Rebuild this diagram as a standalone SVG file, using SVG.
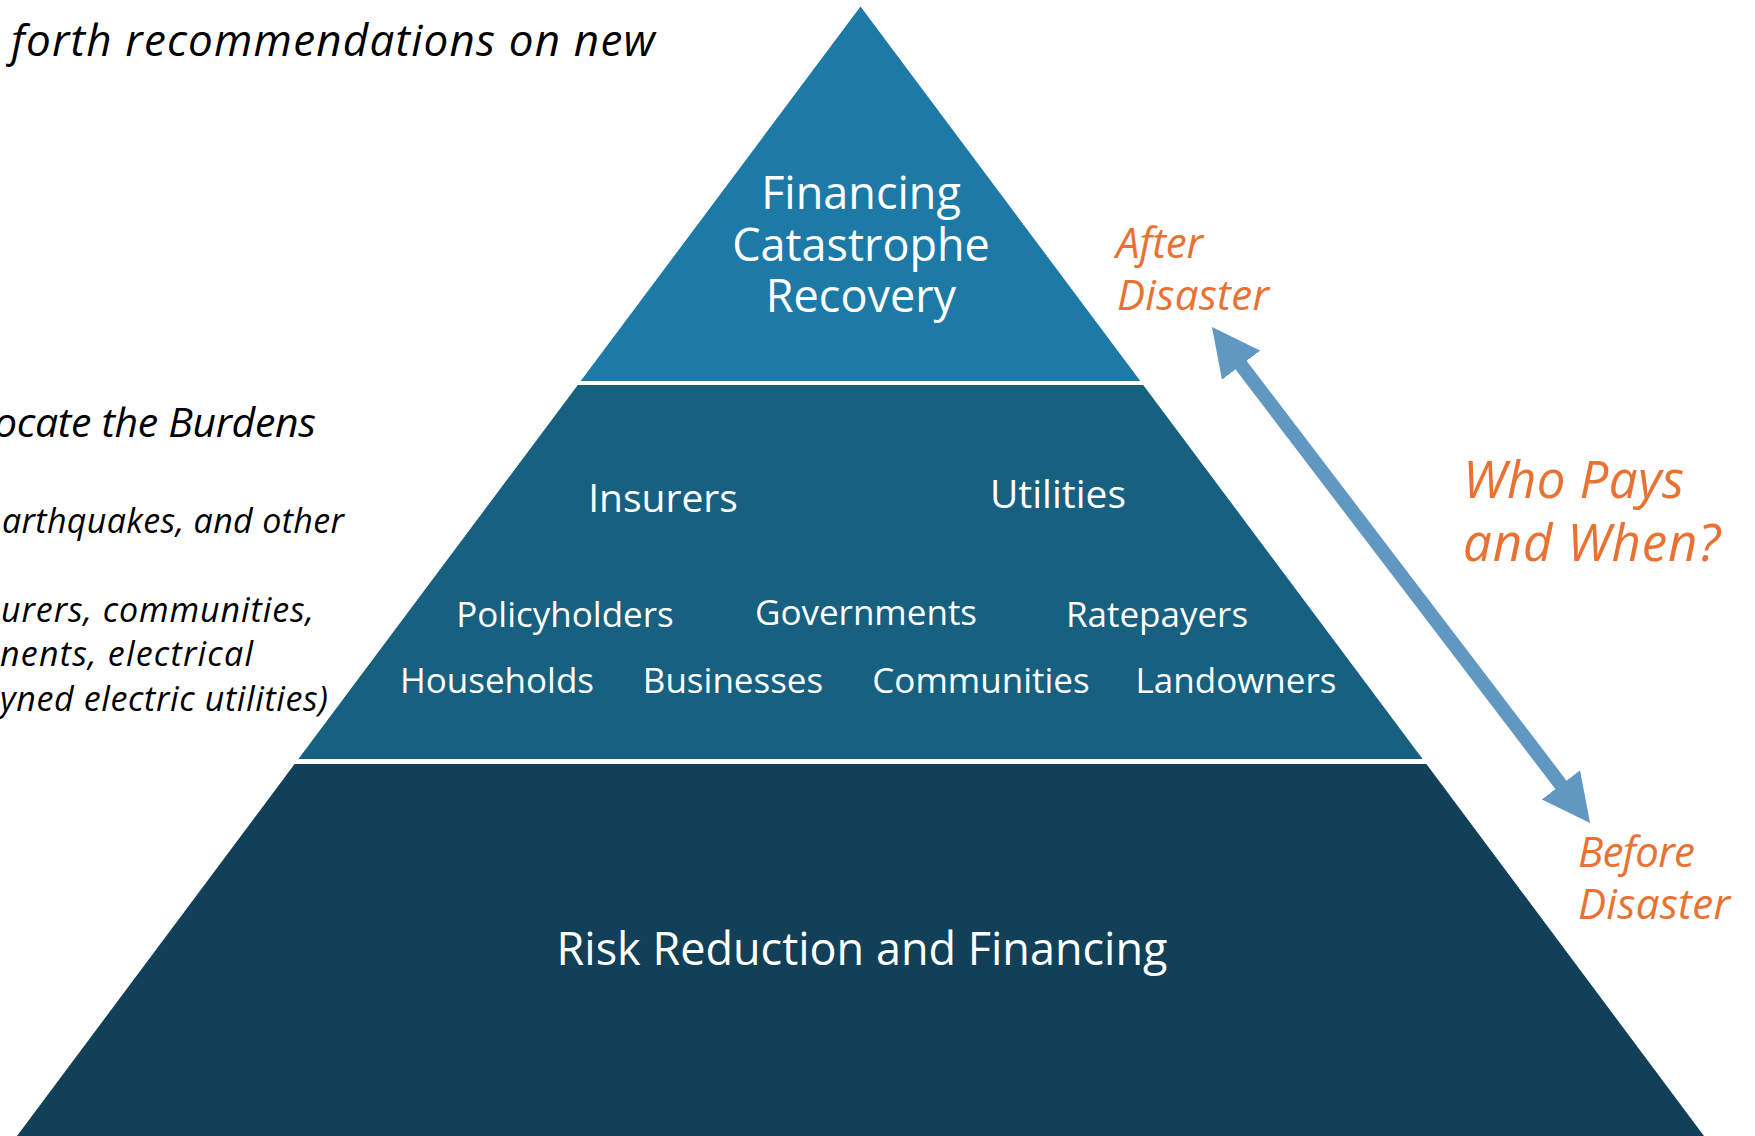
<svg xmlns="http://www.w3.org/2000/svg" width="1755" height="1136" viewBox="0 0 1755 1136">
<style>
.tier-label{font-family:"Open Sans","Liberation Sans",sans-serif;fill:#ffffff;text-anchor:middle}
.big{font-size:45px}
.mid{font-size:39px}
.small{font-size:35px}
.orange{font-family:"Open Sans","Liberation Sans",sans-serif;font-style:italic;fill:#E97132}
.side{font-family:"Open Sans","Liberation Sans",sans-serif;font-style:italic;fill:#000000}
</style>
<defs>
<marker id="head" markerUnits="userSpaceOnUse" markerWidth="48" markerHeight="48" viewBox="0 0 48 48" refX="8" refY="24" orient="auto-start-reverse">
<path d="M0,0 L48,24 L0,48 z" fill="#6098C2"/>
</marker>
</defs>
<rect width="1755" height="1136" fill="#ffffff"/>
<g id="side-text">
<text class="side" x="11" y="56" font-size="44" textLength="644" lengthAdjust="spacing">forth recommendations on new</text>
<text class="side" x="-6" y="437" font-size="41" textLength="322" lengthAdjust="spacing">ocate the Burdens</text>
<text class="side" x="2" y="533" font-size="34" textLength="342" lengthAdjust="spacing">arthquakes, and other</text>
<text class="side" x="1" y="622" font-size="34" textLength="313" lengthAdjust="spacing">urers, communities,</text>
<text class="side" x="0" y="666" font-size="34" textLength="253" lengthAdjust="spacing">nents, electrical</text>
<text class="side" x="0" y="711" font-size="34" textLength="328" lengthAdjust="spacing">yned electric utilities)</text>
</g>
<g id="tier-top">
<polygon points="860.5,6.5 1140.3,381 580.7,381" fill="#1D7AA6"/>
<text class="tier-label big" x="861" y="209">Financing</text>
<text class="tier-label big" x="861" y="261">Catastrophe</text>
<text class="tier-label big" x="861" y="312">Recovery</text>
</g>
<g id="tier-middle">
<polygon points="577.8,385 1143.2,385 1422.6,759 298.4,759" fill="#17607F"/>
<text class="tier-label mid" x="663" y="512">Insurers</text>
<text class="tier-label mid" x="1058" y="508">Utilities</text>
<text class="tier-label small" x="565" y="627">Policyholders</text>
<text class="tier-label small" x="866" y="625">Governments</text>
<text class="tier-label small" x="1157" y="627">Ratepayers</text>
<text class="tier-label small" x="497" y="693">Households</text>
<text class="tier-label small" x="733" y="693">Businesses</text>
<text class="tier-label small" x="981" y="693">Communities</text>
<text class="tier-label small" x="1236" y="693">Landowners</text>
</g>
<g id="tier-bottom">
<polygon points="294.6,764 1426.4,764 1707,1140 14,1140" fill="#114058"/>
<text class="tier-label big" x="862" y="965">Risk Reduction and Financing</text>
</g>
<g id="label-after">
<text class="orange" x="1116" y="258" font-size="42" textLength="87" lengthAdjust="spacing">After</text>
<text class="orange" x="1117" y="310" font-size="42" textLength="152" lengthAdjust="spacing">Disaster</text>
</g>
<g id="label-question">
<text class="orange" x="1463" y="498" font-size="51" textLength="221" lengthAdjust="spacing">Who Pays</text>
<text class="orange" x="1463" y="561" font-size="51" textLength="257" lengthAdjust="spacing">and When?</text>
</g>
<g id="label-before">
<text class="orange" x="1578" y="867" font-size="42" textLength="117" lengthAdjust="spacing">Before</text>
<text class="orange" x="1578" y="919" font-size="42" textLength="152" lengthAdjust="spacing">Disaster</text>
</g>
<g id="connectors">
<line x1="1236.2" y1="358.8" x2="1565.8" y2="791.2" stroke="#6098C2" stroke-width="14" marker-start="url(#head)" marker-end="url(#head)"/>
</g>
</svg>
